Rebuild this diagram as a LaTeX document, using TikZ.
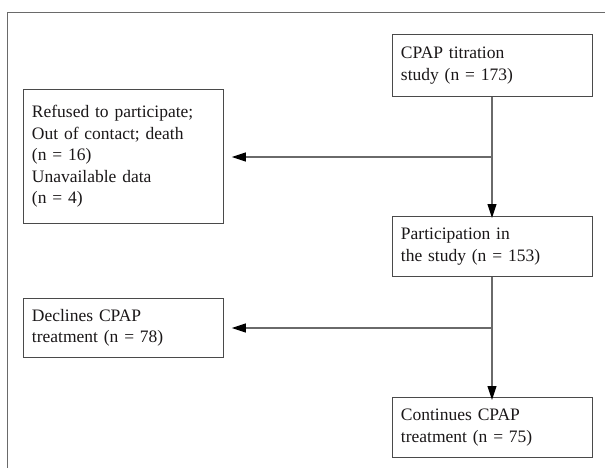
\documentclass[tikz,border=0pt]{standalone}
\usepackage{fontspec}
\setmainfont{Liberation Serif}
\usetikzlibrary{arrows.meta}
\definecolor{linegray}{HTML}{6A6A6A}
\definecolor{boxgray}{HTML}{4A4A4A}
\definecolor{txt}{HTML}{1A1718}
\begin{document}
\begin{tikzpicture}[x=1pt,y=-1pt,
  flowbox/.style={draw=boxgray,line width=0.9pt,anchor=north west,minimum width=200pt,
    text width=183pt,inner xsep=8.5pt,inner ysep=0pt,align=left,text=txt,
    font=\fontsize{17.5}{21.5}\selectfont},
  conn/.style={draw=linegray,line width=1.1pt},
  arr/.style={conn,-{Triangle[length=14pt,width=9pt,fill=black,color=black]}}]
\useasboundingbox (0,0) rectangle (605,468);
\draw[draw=linegray,line width=1.1pt] (7.5,468) -- (7.5,12.5) -- (605,12.5);
\node[flowbox,minimum height=62pt] (a) at (392,34) {CPAP titration\\study (n = 173)};
\node[flowbox,minimum height=134pt] (b) at (23,89) {Refused to participate;\\Out of contact; death\\(n = 16)\\Unavailable data\\(n = 4)};
\node[flowbox,minimum height=60pt] (c) at (392,216) {Participation in\\the study (n = 153)};
\node[flowbox,minimum height=59pt] (d) at (23,298) {Declines CPAP\\treatment (n = 78)};
\node[flowbox,minimum height=60pt] (e) at (392,397) {Continues CPAP\\treatment (n = 75)};
\coordinate (j1) at (492,157);
\coordinate (j2) at (492,328);
\draw[arr] (a.south -| j1) -- ([yshift=-2pt]c.north -| j1);
\draw[arr] (j1) -- ([xshift=8pt]b.east |- j1);
\draw[arr] (c.south -| j2) -- ([yshift=-3pt]e.north -| j2);
\draw[arr] (j2) -- ([xshift=8pt]d.east |- j2);
\end{tikzpicture}
\end{document}
